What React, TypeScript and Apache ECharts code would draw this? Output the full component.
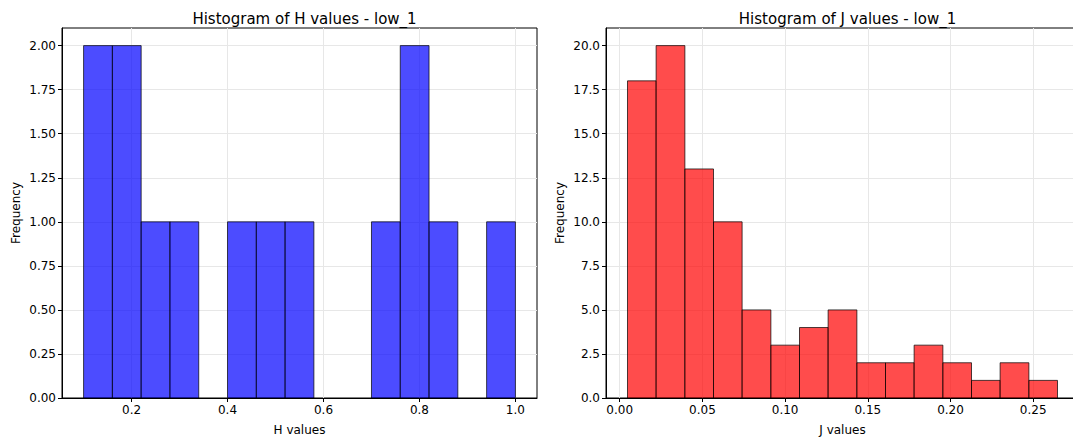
import React, { useEffect, useRef } from "react";
import * as echarts from "echarts";

const hEdges = [0.1, 0.16, 0.22, 0.28, 0.34, 0.4, 0.46, 0.52, 0.58, 0.64, 0.7, 0.76, 0.82, 0.88, 0.94, 1.0];
const hCounts = [2, 2, 1, 1, 0, 1, 1, 1, 0, 0, 1, 2, 1, 0, 1];
const jEdges = [0.0047, 0.022, 0.0394, 0.0567, 0.074, 0.0914, 0.1087, 0.126, 0.1434, 0.1607, 0.178, 0.1954, 0.2127, 0.23, 0.2474, 0.2647];
const jCounts = [18, 20, 13, 10, 5, 3, 4, 5, 2, 2, 3, 2, 1, 2, 1];

const hXTicks = [0.2, 0.4, 0.6, 0.8, 1.0];
const hYTicks = [0, 0.25, 0.5, 0.75, 1.0, 1.25, 1.5, 1.75, 2.0];
const jXTicks = [0.0, 0.05, 0.1, 0.15, 0.2, 0.25];
const jYTicks = [0, 2.5, 5, 7.5, 10, 12.5, 15, 17.5, 20];

const FONT = "DejaVu Sans";

function binData(edges: number[], counts: number[]) {
  return counts.map((c, i) => [edges[i], edges[i + 1], c]);
}

function makeAxis(gridIndex: number, min: number, max: number, ticks: number[], decimals: number, name: string, gap: number) {
  return {
    type: "value",
    gridIndex,
    min,
    max,
    name,
    nameLocation: "middle",
    nameGap: gap,
    nameTextStyle: { fontFamily: FONT, fontSize: 12, color: "#000" },
    axisLine: { show: true, onZero: false, lineStyle: { color: "#000", width: 1 } },
    axisTick: { show: true, inside: false, length: 4, customValues: ticks, lineStyle: { color: "#000", width: 1 } },
    axisLabel: {
      show: true,
      customValues: ticks,
      margin: 6,
      fontFamily: FONT,
      fontSize: 12,
      color: "#000",
      formatter: (v: number) => v.toFixed(decimals),
    },
    splitLine: { show: true, lineStyle: { color: "#e7e7e7", width: 1 } },
  };
}

function renderBars(fill: string) {
  return (params: any, api: any) => {
    const x0 = api.value(0);
    const x1 = api.value(1);
    const c = api.value(2);
    if (!c) return null;
    const p0 = api.coord([x0, c]);
    const p1 = api.coord([x1, 0]);
    return {
      type: "rect",
      shape: { x: p0[0], y: p0[1], width: p1[0] - p0[0], height: p1[1] - p0[1] },
      style: { fill, stroke: "rgba(0,0,0,0.7)", lineWidth: 1 },
    };
  };
}

export default function App() {
  const ref = useRef<HTMLDivElement>(null);
  useEffect(() => {
    document.body.style.margin = "0";
    const chart = echarts.init(ref.current!, undefined, { renderer: "svg" });
    const titleStyle = { fontFamily: FONT, fontSize: 15, fontWeight: "normal", color: "#000" };
    chart.setOption({
      animation: false,
      backgroundColor: "#fff",
      title: [
        { text: "Histogram of H values - low_1", left: 299.5, top: 6, textAlign: "center", textStyle: titleStyle },
        { text: "Histogram of J values - low_1", left: 842.5, top: 6, textAlign: "center", textStyle: titleStyle },
      ],
      grid: [
        { left: 62, top: 28, width: 475, height: 370, show: true, borderColor: "#000", borderWidth: 1, backgroundColor: "transparent" },
        { left: 606, top: 28, width: 473, height: 370, show: true, borderColor: "#000", borderWidth: 1, backgroundColor: "transparent" },
      ],
      xAxis: [
        makeAxis(0, 0.055, 1.045, hXTicks, 1, "H values", 26),
        makeAxis(1, -0.0083, 0.2777, jXTicks, 2, "J values", 26),
      ],
      yAxis: [
        makeAxis(0, 0, 2.1, hYTicks, 2, "Frequency", 40),
        makeAxis(1, 0, 21, jYTicks, 1, "Frequency", 40),
      ],
      series: [
        { type: "custom", xAxisIndex: 0, yAxisIndex: 0, renderItem: renderBars("rgba(0,0,255,0.7)"), data: binData(hEdges, hCounts), encode: { x: [0, 1], y: 2 } },
        { type: "custom", xAxisIndex: 1, yAxisIndex: 1, renderItem: renderBars("rgba(255,0,0,0.7)"), data: binData(jEdges, jCounts), encode: { x: [0, 1], y: 2 } },
      ],
    });
    return () => chart.dispose();
  }, []);
  return (
    <div style={{ width: 1073, height: 443, position: "absolute", left: 0, top: 0, overflow: "hidden" }}>
      <div ref={ref} style={{ width: 1100, height: 443 }} />
    </div>
  );
}
